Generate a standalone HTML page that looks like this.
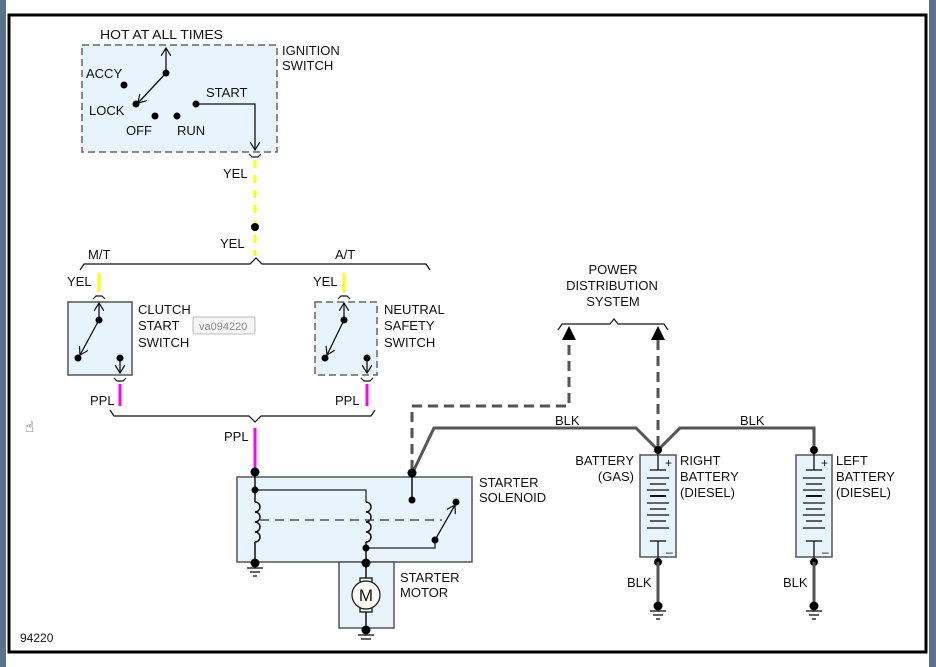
<!DOCTYPE html>
<html><head><meta charset="utf-8"><style>
html,body{margin:0;padding:0;background:#fff;}
svg{display:block;}
text{font-family:"Liberation Sans",Arial,sans-serif;font-size:13px;fill:#111;}
</style></head><body>
<svg width="936" height="667" viewBox="0 0 936 667" xmlns="http://www.w3.org/2000/svg">
<defs>
<marker id="ah" markerWidth="10" markerHeight="10" refX="8" refY="5" orient="auto" markerUnits="userSpaceOnUse">
<path d="M0,0 L8,5 L0,10" fill="none" stroke="#111" stroke-width="1.2"/>
</marker>
</defs>
<rect x="0" y="0" width="936" height="667" fill="#fff"/>
<rect x="0" y="0" width="6" height="667" fill="#5a7190"/>
<rect x="929" y="0" width="7" height="667" fill="#5a7190"/>
<rect x="9" y="15" width="917" height="637" fill="#fff" stroke="#000" stroke-width="3"/>

<!-- Ignition switch -->
<rect x="82" y="45" width="195" height="107" fill="#e8f4fc" stroke="#666" stroke-width="1.5" stroke-dasharray="7,4"/>
<text x="100" y="39" textLength="123" lengthAdjust="spacingAndGlyphs">HOT AT ALL TIMES</text>
<text x="282" y="55">IGNITION</text>
<text x="282" y="70">SWITCH</text>
<line x1="166" y1="73" x2="166" y2="48" stroke="#111" stroke-width="1.3" marker-end="url(#ah)"/>
<line x1="166" y1="73" x2="138" y2="103" stroke="#111" stroke-width="1.3" marker-end="url(#ah)"/>
<circle cx="166" cy="73" r="3.5" fill="#000"/>
<circle cx="136" cy="104" r="3.5" fill="#000"/>
<circle cx="124" cy="85" r="3.5" fill="#000"/>
<circle cx="155" cy="116" r="3.5" fill="#000"/>
<circle cx="177" cy="116" r="3.5" fill="#000"/>
<circle cx="196" cy="104" r="3.5" fill="#000"/>
<polyline points="196,104 255,104 255,150" fill="none" stroke="#111" stroke-width="1.3" marker-end="url(#ah)"/>
<text x="86" y="78">ACCY</text>
<text x="89" y="115">LOCK</text>
<text x="126" y="135">OFF</text>
<text x="177" y="135">RUN</text>
<text x="206" y="97">START</text>
<path d="M249,154 L252,157 L258,157 L261,154" fill="none" stroke="#111" stroke-width="1.2"/>
<line x1="255" y1="160" x2="255" y2="256" stroke="#ffff00" stroke-width="3" stroke-dasharray="8,7"/>
<text x="223" y="178">YEL</text>
<circle cx="255" cy="227" r="4" fill="#000"/>
<text x="220" y="248">YEL</text>
<path d="M80,270 L84,264 L250,264 L256,258 L262,264 L426,264 L430,270" fill="none" stroke="#111" stroke-width="1.2"/>
<text x="88" y="259">M/T</text>
<text x="335" y="259">A/T</text>

<!-- Clutch switch -->
<text x="67" y="286">YEL</text>
<line x1="99" y1="273" x2="99" y2="292" stroke="#ffff00" stroke-width="3"/>
<path d="M93,299 L96,296 L102,296 L105,299" fill="none" stroke="#111" stroke-width="1.2"/>
<rect x="68" y="302" width="64" height="73" fill="#e8f4fc" stroke="#555" stroke-width="1.5"/>
<line x1="99" y1="320" x2="99" y2="303" stroke="#111" stroke-width="1.3" marker-end="url(#ah)"/>
<line x1="99" y1="320" x2="80" y2="355" stroke="#111" stroke-width="1.3" marker-end="url(#ah)"/>
<circle cx="99" cy="320" r="3.5" fill="#000"/>
<circle cx="78" cy="358" r="3.5" fill="#000"/>
<circle cx="120" cy="358" r="3.5" fill="#000"/>
<line x1="120" y1="358" x2="120" y2="373" stroke="#111" stroke-width="1.3" marker-end="url(#ah)"/>
<path d="M114,378 L117,381 L123,381 L126,378" fill="none" stroke="#111" stroke-width="1.2"/>
<line x1="120" y1="384" x2="120" y2="406" stroke="#ff00ff" stroke-width="3"/>
<text x="90" y="405">PPL</text>
<text x="138" y="314">CLUTCH</text>
<text x="138" y="330">START</text>
<text x="138" y="347">SWITCH</text>
<rect x="193" y="317" width="62" height="17" rx="2" fill="#f6f6f6" stroke="#bbb"/>
<text x="199" y="330" style="font-size:11px;fill:#888">va094220</text>

<!-- Neutral safety -->
<text x="313" y="286">YEL</text>
<line x1="344" y1="273" x2="344" y2="292" stroke="#ffff00" stroke-width="3"/>
<path d="M338,299 L341,296 L347,296 L350,299" fill="none" stroke="#111" stroke-width="1.2"/>
<rect x="315" y="302" width="62" height="73" fill="#e8f4fc" stroke="#666" stroke-width="1.5" stroke-dasharray="7,4"/>
<line x1="344" y1="320" x2="344" y2="303" stroke="#111" stroke-width="1.3" marker-end="url(#ah)"/>
<line x1="344" y1="320" x2="327" y2="355" stroke="#111" stroke-width="1.3" marker-end="url(#ah)"/>
<circle cx="344" cy="320" r="3.5" fill="#000"/>
<circle cx="325" cy="358" r="3.5" fill="#000"/>
<circle cx="367" cy="358" r="3.5" fill="#000"/>
<line x1="367" y1="358" x2="367" y2="373" stroke="#111" stroke-width="1.3" marker-end="url(#ah)"/>
<path d="M361,378 L364,381 L370,381 L373,378" fill="none" stroke="#111" stroke-width="1.2"/>
<line x1="367" y1="384" x2="367" y2="406" stroke="#ff00ff" stroke-width="3"/>
<text x="335" y="405">PPL</text>
<text x="384" y="314">NEUTRAL</text>
<text x="384" y="330">SAFETY</text>
<text x="384" y="347">SWITCH</text>

<path d="M110,410 L114,416 L249,416 L255,422 L261,416 L371,416 L375,410" fill="none" stroke="#111" stroke-width="1.2"/>
<text x="224" y="441">PPL</text>
<line x1="255" y1="428" x2="255" y2="472" stroke="#ff00ff" stroke-width="3"/>

<!-- dashed power distribution wires -->
<polyline points="412,470 412,406 569,406 569,340" fill="none" stroke="#555" stroke-width="3" stroke-dasharray="10,6"/>
<line x1="658" y1="340" x2="658" y2="450" stroke="#555" stroke-width="3" stroke-dasharray="10,6"/>
<polygon points="562,340 576,340 569,326" fill="#000"/>
<polygon points="651,340 665,340 658,326" fill="#000"/>
<path d="M558,330 L562,324 L610,324 L614,319 L618,324 L664,324 L668,330" fill="none" stroke="#111" stroke-width="1.2"/>
<text x="613" y="274" text-anchor="middle">POWER</text>
<text x="612" y="290" text-anchor="middle">DISTRIBUTION</text>
<text x="613" y="306" text-anchor="middle">SYSTEM</text>

<!-- solid BLK wires -->
<polyline points="412,474 434,428 636,428 658,450 680,428 814,428 814,450" fill="none" stroke="#555" stroke-width="3"/>
<text x="555" y="425">BLK</text>
<text x="740" y="425">BLK</text>

<!-- Starter solenoid -->
<rect x="237" y="477" width="235" height="85" fill="#e8f4fc" stroke="#555" stroke-width="1.5"/>
<text x="479" y="487">STARTER</text>
<text x="479" y="502">SOLENOID</text>
<polyline points="255,490 366,490 366,502" fill="none" stroke="#444" stroke-width="1.5"/>
<line x1="255" y1="472" x2="255" y2="502" stroke="#111" stroke-width="1.5"/>
<path d="M255,502 a5,5 0 0 1 0,10 a5,5 0 0 1 0,10 a5,5 0 0 1 0,10 a5,5 0 0 1 0,10" fill="none" stroke="#111" stroke-width="1.5"/>
<line x1="255" y1="542" x2="255" y2="565" stroke="#111" stroke-width="1.5"/>
<path d="M366,502 a5,5 0 0 1 0,10 a5,5 0 0 1 0,10 a5,5 0 0 1 0,10 a5,5 0 0 1 0,10" fill="none" stroke="#111" stroke-width="1.5"/>
<line x1="366" y1="542" x2="366" y2="563" stroke="#111" stroke-width="1.5"/>
<line x1="260" y1="520" x2="442" y2="520" stroke="#333" stroke-width="1.3" stroke-dasharray="9,6"/>
<polyline points="366,548 435,548 435,540" fill="none" stroke="#444" stroke-width="1.5"/>
<line x1="435" y1="540" x2="455" y2="505" stroke="#111" stroke-width="1.3" marker-end="url(#ah)"/>
<line x1="412" y1="474" x2="412" y2="500" stroke="#111" stroke-width="1.5"/>
<circle cx="255" cy="472" r="4.5" fill="#000"/>
<circle cx="255" cy="490" r="3.5" fill="#000"/>
<circle cx="412" cy="473" r="4.5" fill="#000"/>
<circle cx="412" cy="500" r="3.5" fill="#000"/>
<circle cx="456" cy="502" r="3.5" fill="#000"/>
<circle cx="435" cy="540" r="3.5" fill="#000"/>
<circle cx="366" cy="548" r="3.5" fill="#000"/>
<circle cx="255" cy="563" r="4.5" fill="#000"/>
<line x1="247" y1="568" x2="263" y2="568" stroke="#111" stroke-width="1.3"/>
<line x1="250" y1="572" x2="260" y2="572" stroke="#111" stroke-width="1.3"/>
<line x1="253" y1="576" x2="257" y2="576" stroke="#111" stroke-width="1.3"/>

<!-- Starter motor -->
<rect x="339" y="562" width="55" height="66" fill="#e8f4fc" stroke="#555" stroke-width="1.5"/>
<text x="400" y="582">STARTER</text>
<text x="400" y="597">MOTOR</text>
<line x1="366" y1="563" x2="366" y2="628" stroke="#111" stroke-width="1.5"/>
<rect x="360" y="578" width="12" height="34" fill="#e8f4fc" stroke="#111" stroke-width="1.3"/>
<circle cx="366" cy="595" r="14" fill="#fdfdf5" stroke="#111" stroke-width="1.2"/>
<text x="366" y="601" text-anchor="middle" style="font-size:17px">M</text>
<circle cx="366" cy="563" r="4.5" fill="#000"/>
<circle cx="366" cy="630" r="4.5" fill="#000"/>
<line x1="358" y1="635" x2="374" y2="635" stroke="#111" stroke-width="1.3"/>
<line x1="361" y1="639" x2="371" y2="639" stroke="#111" stroke-width="1.3"/>

<!-- Batteries -->
<g id="bat">
<rect x="640" y="455" width="36" height="102" fill="#e8f4fc" stroke="#555" stroke-width="1.5"/>
<line x1="658" y1="450" x2="658" y2="470" stroke="#111" stroke-width="1.3"/>
<line x1="658" y1="541" x2="658" y2="562" stroke="#111" stroke-width="1.3"/>
<text x="665" y="467" style="font-size:12px">+</text>
<text x="666" y="556" style="font-size:12px">–</text>
<line x1="650" y1="470" x2="666" y2="470" stroke="#111" stroke-width="1.3"/>
<line x1="647" y1="478" x2="669" y2="478" stroke="#111" stroke-width="1.3"/>
<line x1="650" y1="484" x2="666" y2="484" stroke="#111" stroke-width="1.3"/>
<line x1="647" y1="490" x2="669" y2="490" stroke="#111" stroke-width="1.3"/>
<line x1="650" y1="496" x2="666" y2="496" stroke="#111" stroke-width="2"/>
<line x1="647" y1="503" x2="669" y2="503" stroke="#111" stroke-width="1.3"/>
<line x1="650" y1="509" x2="666" y2="509" stroke="#111" stroke-width="1.3"/>
<line x1="647" y1="515" x2="669" y2="515" stroke="#111" stroke-width="1.3"/>
<line x1="650" y1="521" x2="666" y2="521" stroke="#111" stroke-width="1.3"/>
<line x1="647" y1="528" x2="669" y2="528" stroke="#111" stroke-width="1.3"/>
<line x1="650" y1="541" x2="666" y2="541" stroke="#111" stroke-width="1.3"/>
<circle cx="658" cy="450" r="4" fill="#000"/>
<circle cx="658" cy="562" r="4" fill="#000"/>
<line x1="658" y1="562" x2="658" y2="604" stroke="#555" stroke-width="3"/>
<circle cx="658" cy="606" r="4.5" fill="#000"/>
<line x1="650" y1="611" x2="666" y2="611" stroke="#111" stroke-width="1.3"/>
<line x1="653" y1="615" x2="663" y2="615" stroke="#111" stroke-width="1.3"/>
<line x1="656" y1="619" x2="660" y2="619" stroke="#111" stroke-width="1.3"/>
</g>
<use href="#bat" x="156" y="0"/>
<text x="627" y="587">BLK</text>
<text x="783" y="587">BLK</text>
<text x="634" y="465" text-anchor="end">BATTERY</text>
<text x="634" y="481" text-anchor="end">(GAS)</text>
<text x="680" y="465">RIGHT</text>
<text x="680" y="481">BATTERY</text>
<text x="680" y="497">(DIESEL)</text>
<text x="836" y="465">LEFT</text>
<text x="836" y="481">BATTERY</text>
<text x="836" y="497">(DIESEL)</text>

<text x="25" y="432" style="font-size:15px;fill:#333">&#x261D;&#xFE0E;</text>
<text x="20" y="642" style="font-size:12px">94220</text>
</svg>
</body></html>
